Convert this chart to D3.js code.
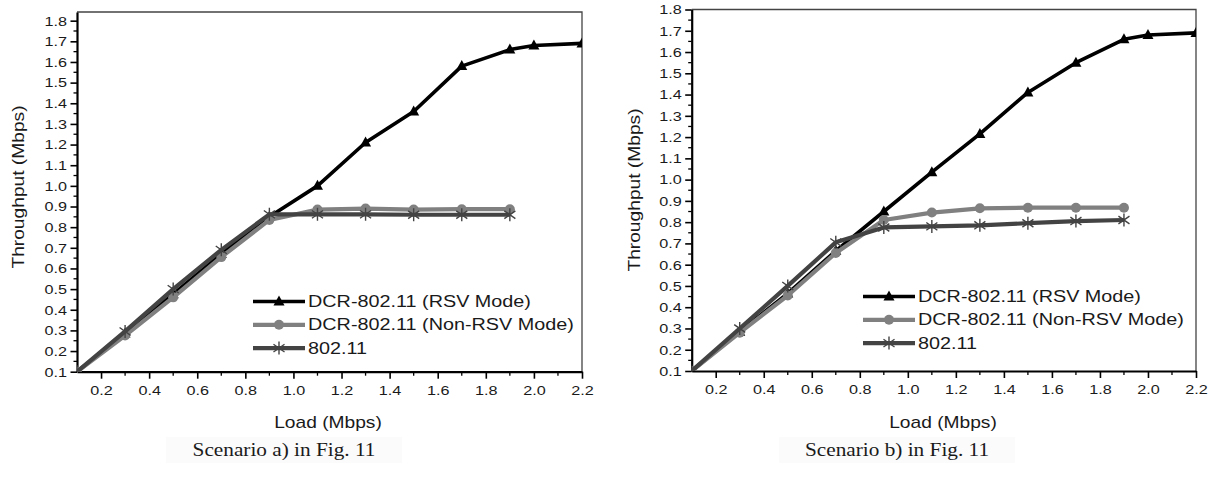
<!DOCTYPE html>
<html>
<head>
<meta charset="utf-8">
<script src="https://cdn.jsdelivr.net/npm/d3@7"></script>
<style>
  html, body { margin: 0; padding: 0; background: #fff; }
  svg { display: block; }
  text { font-family: "Liberation Sans", Arial, sans-serif; fill: #1a1a1a; }
</style>
</head>
<body>
<svg id="fig" width="1216" height="481"></svg>
<script>
// Offered load (Mbps) at which each series was measured
const loads = [0.1, 0.3, 0.5, 0.7, 0.9, 1.1, 1.3, 1.5, 1.7, 1.9];
const rsvLoads = [0.1, 0.3, 0.5, 0.7, 0.9, 1.1, 1.3, 1.5, 1.7, 1.9, 2.0, 2.2];

// Scenario a) throughput (Mbps)
const rsvA = [0.1, 0.285, 0.475, 0.67, 0.85, 1.00, 1.21, 1.36, 1.58, 1.66, 1.68, 1.69];
const nonRsvA = [0.1, 0.275, 0.46, 0.655, 0.835, 0.885, 0.89, 0.885, 0.887, 0.887];
const plainA = [0.1, 0.295, 0.50, 0.69, 0.862, 0.862, 0.862, 0.86, 0.86, 0.86];

// Scenario b) throughput (Mbps)
const rsvB = [0.1, 0.285, 0.465, 0.665, 0.85, 1.035, 1.215, 1.41, 1.55, 1.66, 1.68, 1.69];
const nonRsvB = [0.1, 0.28, 0.455, 0.655, 0.81, 0.845, 0.865, 0.868, 0.868, 0.868];
const plainB = [0.1, 0.30, 0.50, 0.705, 0.775, 0.78, 0.785, 0.795, 0.805, 0.81];

// Labels
const seriesNames = ["DCR-802.11 (RSV Mode)", "DCR-802.11 (Non-RSV Mode)", "802.11"];
const xTickValues = [0.2, 0.4, 0.6, 0.8, 1.0, 1.2, 1.4, 1.6, 1.8, 2.0, 2.2];
const yTickValues = [0.1, 0.2, 0.3, 0.4, 0.5, 0.6, 0.7, 0.8, 0.9, 1.0, 1.1, 1.2, 1.3, 1.4, 1.5, 1.6, 1.7, 1.8];
const xTitle = "Load (Mbps)";
const yTitle = "Throughput (Mbps)";
const captions = ["Scenario a) in Fig. 11", "Scenario b) in Fig. 11"];

const STRETCH = 1.2; // horizontal text stretch
const svg = d3.select("#fig");

const styles = [
  { color: "#000000", width: 3.6, marker: "triangle" },
  { color: "#808080", width: 4.2, marker: "circle" },
  { color: "#434343", width: 4.2, marker: "star" }
];

function drawMarker(g, type, x, y, color) {
  if (type === "triangle") {
    g.append("path")
      .attr("d", `M${x},${y - 6}L${x + 5.5},${y + 4}L${x - 5.5},${y + 4}Z`)
      .attr("fill", color);
  } else if (type === "circle") {
    g.append("circle").attr("cx", x).attr("cy", y).attr("r", 5).attr("fill", color);
  } else {
    const s = 6.5;
    const d = `M${x},${y - s}L${x},${y + s}` +
              `M${x - s * 0.85},${y - s * 0.6}L${x + s * 0.85},${y + s * 0.6}` +
              `M${x - s * 0.85},${y + s * 0.6}L${x + s * 0.85},${y - s * 0.6}`;
    g.append("path").attr("d", d).attr("stroke", color).attr("stroke-width", 1.4).attr("fill", "none");
  }
}

function stretchedText(g, x, y, str, size, opts = {}) {
  const t = g.append("text")
    .attr("transform", `translate(${x},${y}) ${opts.rotate ? "rotate(-90)" : ""} scale(${opts.stretch || STRETCH},1)`)
    .attr("font-size", size)
    .attr("text-anchor", opts.anchor || "start")
    .attr("dominant-baseline", opts.baseline || "auto")
    .text(str);
  if (opts.family) t.style("font-family", opts.family);
  return t;
}

function panel(p) {
  const g = svg.append("g");
  const x = d3.scaleLinear().domain([0.1, 2.2]).range([p.left, p.right]);
  const y = d3.scaleLinear().domain([0.1, p.yMax]).range([p.bottom, p.top]);

  const clipId = "clip" + p.id;
  g.append("clipPath").attr("id", clipId)
    .append("rect").attr("x", p.left).attr("y", p.top)
    .attr("width", p.right - p.left).attr("height", p.bottom - p.top);

  // frame: top and right
  g.append("path")
    .attr("d", `M${p.left},${y(y.domain()[1])}H${p.right}V${p.bottom}`)
    .attr("fill", "none").attr("stroke", "#444").attr("stroke-width", 1.3);

  // minor ticks
  const yMinor = d3.range(0.15, 1.8, 0.1);
  g.append("g").selectAll("line").data(yMinor).join("line")
    .attr("x1", p.left).attr("x2", p.left - 3.5)
    .attr("y1", d => y(d)).attr("y2", d => y(d))
    .attr("stroke", "#000").attr("stroke-width", 1.3);
  const xMinor = d3.range(0.3, 2.15, 0.2);
  g.append("g").selectAll("line").data(xMinor).join("line")
    .attr("x1", d => x(d)).attr("x2", d => x(d))
    .attr("y1", p.bottom).attr("y2", p.bottom + 4)
    .attr("stroke", "#000").attr("stroke-width", 1.3);

  // y axis
  const ya = g.append("g").attr("transform", `translate(${p.left},0)`)
    .call(d3.axisLeft(y).tickValues(yTickValues).tickFormat(d3.format(".1f"))
      .tickSizeInner(6.5).tickSizeOuter(0).tickPadding(1.8));
  ya.select(".domain").attr("stroke", "#000").attr("stroke-width", 2.2);
  ya.selectAll(".tick line").attr("stroke", "#000").attr("stroke-width", 1.6);
  ya.selectAll(".tick text").attr("font-size", 13.5).attr("fill", "#1a1a1a")
    .attr("font-family", "Liberation Sans, Arial, sans-serif")
    .attr("transform", `scale(${STRETCH},1)`);

  // x axis
  const xa = g.append("g").attr("transform", `translate(0,${p.bottom})`)
    .call(d3.axisBottom(x).tickValues(xTickValues).tickFormat(d3.format(".1f"))
      .tickSizeInner(7).tickSizeOuter(0).tickPadding(6.5));
  xa.select(".domain").attr("stroke", "#000").attr("stroke-width", 2.2);
  xa.selectAll(".tick line").attr("stroke", "#000").attr("stroke-width", 1.6);
  xa.selectAll(".tick text").attr("font-size", 13.5).attr("fill", "#1a1a1a")
    .attr("font-family", "Liberation Sans, Arial, sans-serif")
    .attr("transform", `scale(${STRETCH},1)`);

  // series
  const series = [
    { xs: rsvLoads, ys: p.rsv, st: styles[0] },
    { xs: loads, ys: p.nonRsv, st: styles[1] },
    { xs: loads, ys: p.plain, st: styles[2] }
  ];
  const plot = g.append("g").attr("clip-path", `url(#${clipId})`);
  const line = d3.line().x(d => x(d[0])).y(d => y(d[1]));
  series.forEach(s => {
    const pts = s.xs.map((v, i) => [v, s.ys[i]]);
    plot.append("path").attr("d", line(pts))
      .attr("fill", "none").attr("stroke", s.st.color)
      .attr("stroke-width", s.st.width).attr("stroke-linejoin", "round");
    pts.forEach(d => drawMarker(plot, s.st.marker, x(d[0]), y(d[1]), s.st.color));
  });

  // legend
  seriesNames.forEach((name, i) => {
    const ly = p.legendY + i * 23.3;
    const st = styles[i];
    g.append("line").attr("x1", p.legendX).attr("x2", p.legendX + 52)
      .attr("y1", ly).attr("y2", ly)
      .attr("stroke", st.color).attr("stroke-width", st.width);
    drawMarker(g, st.marker, p.legendX + 26, ly, st.color);
    stretchedText(g, p.legendX + 55, ly, name, 16.5, { baseline: "central" });
  });

  // titles
  stretchedText(g, p.xTitleX, 428, xTitle, 16, { anchor: "middle" });
  stretchedText(g, p.yTitleX, p.yTitleY, yTitle, 16, { anchor: "middle", baseline: "central", rotate: true });

  // caption
  g.append("rect").attr("x", p.capX - 118).attr("y", 437).attr("width", 236).attr("height", 26)
    .attr("fill", "#fbfbfb");
  stretchedText(g, p.capX, 456, p.caption, 18.5,
    { anchor: "middle", family: "Liberation Serif, Times New Roman, serif", stretch: 1.15 });
}

panel({
  id: "a", left: 77, right: 582, top: 12, bottom: 371.7, yMax: 1.842,
  rsv: rsvA, nonRsv: nonRsvA, plain: plainA,
  legendX: 253, legendY: 301.5, xTitleX: 328, yTitleX: 18.5, yTitleY: 187,
  capX: 284, caption: captions[0]
});

panel({
  id: "b", left: 691.7, right: 1196, top: 9.5, bottom: 371, yMax: 1.8,
  rsv: rsvB, nonRsv: nonRsvB, plain: plainB,
  legendX: 863, legendY: 296.5, xTitleX: 943, yTitleX: 635, yTitleY: 190,
  capX: 897, caption: captions[1]
});
</script>
</body>
</html>
